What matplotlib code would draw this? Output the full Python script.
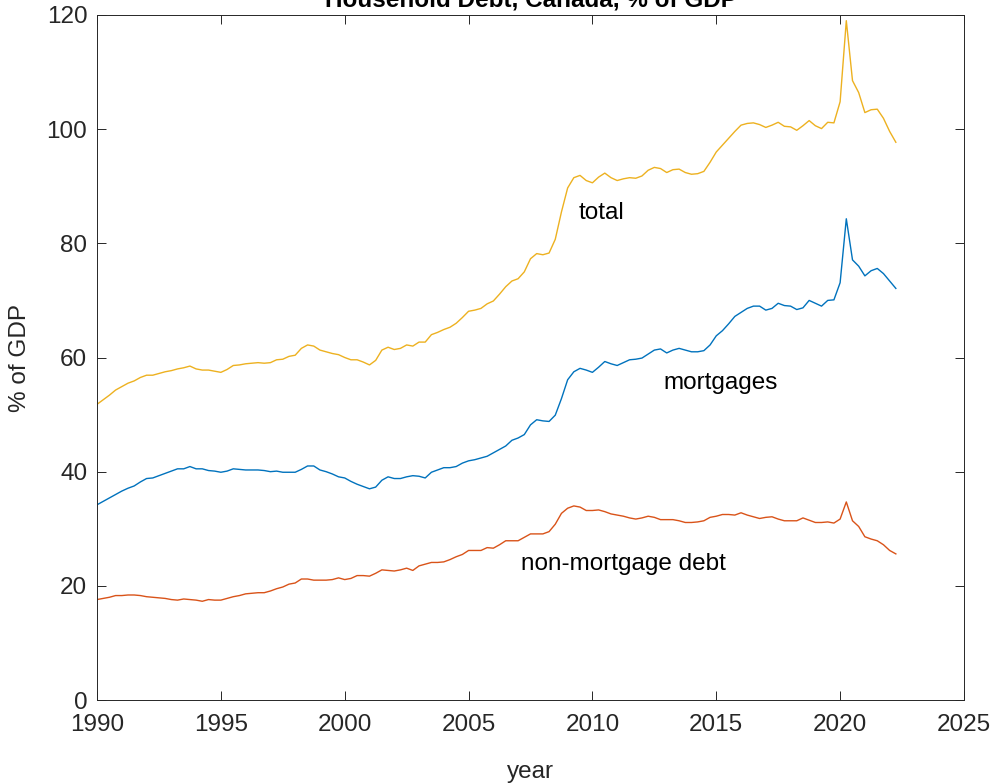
import numpy as np
import matplotlib
matplotlib.use("Agg")
from matplotlib import pyplot as plt

# quarterly, 1990Q1 .. 2022Q2, % of GDP
first_year = 1990
mortgages = [
    34.2, 34.8, 35.4, 36.0,  36.6, 37.1, 37.5, 38.2,  38.8, 38.9, 39.3, 39.7,
    40.1, 40.5, 40.5, 40.9,  40.5, 40.5, 40.2, 40.1,  39.9, 40.1, 40.5, 40.4,
    40.3, 40.3, 40.3, 40.2,  40.0, 40.1, 39.9, 39.9,  39.9, 40.4, 41.0, 41.0,
    40.3, 40.0, 39.6, 39.1,  38.9, 38.3, 37.8, 37.4,  37.0, 37.3, 38.5, 39.1,
    38.8, 38.8, 39.1, 39.3,  39.2, 38.9, 39.9, 40.3,  40.7, 40.7, 40.9, 41.5,
    41.9, 42.1, 42.4, 42.7,  43.3, 43.9, 44.5, 45.5,  45.9, 46.5, 48.2, 49.1,
    48.9, 48.8, 49.9, 52.8,  56.1, 57.5, 58.1, 57.8,  57.4, 58.3, 59.3, 58.9,
    58.6, 59.1, 59.6, 59.7,  59.9, 60.6, 61.3, 61.5,  60.8, 61.3, 61.6, 61.3,
    61.0, 61.0, 61.2, 62.2,  63.8, 64.7, 65.9, 67.2,  67.9, 68.6, 69.0, 69.0,
    68.3, 68.6, 69.5, 69.1,  69.0, 68.4, 68.7, 70.0,  69.5, 69.0, 70.0, 70.1,
    73.1, 84.3, 77.1, 76.0,  74.3, 75.2, 75.6, 74.7,  73.4, 72.1,
]
non_mortgage = [
    17.6, 17.8, 18.0, 18.3,  18.3, 18.4, 18.4, 18.3,  18.1, 18.0, 17.9, 17.8,
    17.6, 17.5, 17.7, 17.6,  17.5, 17.3, 17.6, 17.5,  17.5, 17.8, 18.1, 18.3,
    18.6, 18.7, 18.8, 18.8,  19.1, 19.5, 19.8, 20.3,  20.5, 21.2, 21.2, 21.0,
    21.0, 21.0, 21.1, 21.4,  21.1, 21.3, 21.8, 21.8,  21.7, 22.2, 22.8, 22.7,
    22.6, 22.8, 23.1, 22.7,  23.5, 23.8, 24.1, 24.1,  24.2, 24.6, 25.1, 25.5,
    26.2, 26.2, 26.2, 26.7,  26.6, 27.2, 27.9, 27.9,  27.9, 28.5, 29.1, 29.1,
    29.1, 29.5, 30.8, 32.7,  33.6, 34.0, 33.8, 33.2,  33.2, 33.3, 33.0, 32.6,
    32.4, 32.2, 31.9, 31.7,  31.9, 32.2, 32.0, 31.6,  31.6, 31.6, 31.4, 31.1,
    31.1, 31.2, 31.4, 32.0,  32.2, 32.5, 32.5, 32.4,  32.8, 32.4, 32.1, 31.8,
    32.0, 32.1, 31.7, 31.4,  31.4, 31.4, 31.9, 31.5,  31.1, 31.1, 31.2, 31.0,
    31.7, 34.7, 31.4, 30.4,  28.6, 28.2, 27.9, 27.2,  26.2, 25.6,
]

mort = np.array(mortgages)
nonm = np.array(non_mortgage)
total = mort + nonm
t = first_year + np.arange(len(mort)) / 4

plt.rcParams['font.family'] = ['Liberation Sans', 'DejaVu Sans']
fs = 17.5
ink = '#262626'

fig = plt.figure(figsize=(9.9, 7.84), dpi=100)
ax = fig.add_axes([0.098, 0.1071, 0.8757, 0.8738])

ax.plot(t, mort, color='#0072BD', lw=1.0)
ax.plot(t, nonm, color='#D95319', lw=1.0)
ax.plot(t, total, color='#EDB120', lw=1.0)

ax.text(2009.45, 85.3, 'total', fontsize=fs, va='center')
ax.text(2012.85, 55.5, 'mortgages', fontsize=fs, va='center')
ax.text(2007.1, 23.8, 'non-mortgage debt', fontsize=fs, va='center')

ax.set_xlim(1990, 2025)
ax.set_ylim(0, 120)
ax.set_xticks(range(1990, 2026, 5))
ax.set_yticks(range(0, 121, 20))
ax.tick_params(direction='in', length=6.5, width=0.7, colors=ink,
               labelsize=fs, top=True, right=True, pad=7)
ax.tick_params(axis='x', pad=10)
for s in ax.spines.values():
    s.set_color(ink)
    s.set_linewidth(0.7)

ax.set_xlabel('year', fontsize=fs, color=ink, labelpad=18)
ax.set_ylabel('% of GDP', fontsize=fs, color=ink, labelpad=11)
ax.set_title('Household Debt, Canada, % of GDP', fontsize=fs, fontweight='bold',
             color='black', pad=6)

fig.savefig('out.png', dpi=100)
